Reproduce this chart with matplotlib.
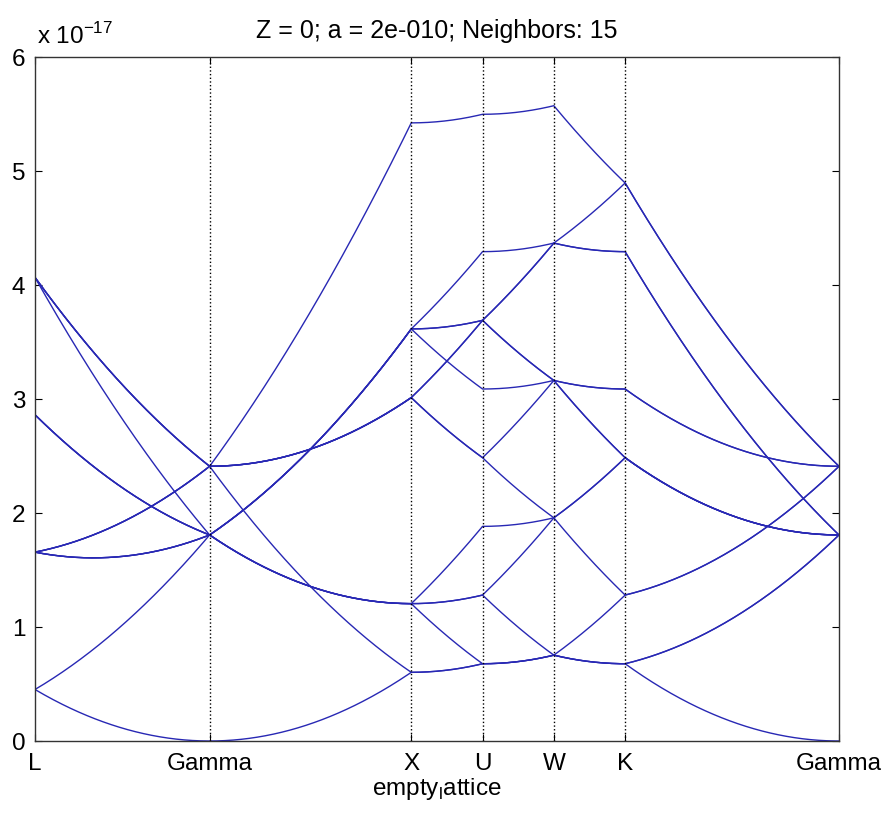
import numpy as np
import matplotlib
matplotlib.use("Agg")
import matplotlib.pyplot as plt

plt.rcParams['font.family'] = ['Liberation Sans', 'DejaVu Sans']

# Empty lattice (Z = 0), fcc, lattice constant a
a = 2e-10
hbar = 1.054571817e-34
m_e = 9.1093837e-31

# High symmetry path, k in units of 2*pi/a
point_labels = ['L', 'Gamma', 'X', 'U', 'W', 'K', 'Gamma']
point_k = [
    [0.5, 0.5, 0.5],
    [0.0, 0.0, 0.0],
    [1.0, 0.0, 0.0],
    [1.0, 0.25, 0.25],
    [1.0, 0.5, 0.0],
    [0.75, 0.75, 0.0],
    [0.0, 0.0, 0.0],
]

# 15 nearest reciprocal lattice vectors (units of 2*pi/a)
G_vectors = [
    [0, 0, 0],
    [1, 1, 1], [1, 1, -1], [1, -1, 1], [-1, 1, 1],
    [-1, -1, 1], [-1, 1, -1], [1, -1, -1], [-1, -1, -1],
    [2, 0, 0], [-2, 0, 0], [0, 2, 0], [0, -2, 0], [0, 0, 2], [0, 0, -2],
]

kp = np.array(point_k)
G = np.array(G_vectors, dtype=float)

# build path
xs, ks = [], []
dist = 0.0
tick_pos = [0.0]
for i in range(len(kp) - 1):
    seg = kp[i + 1] - kp[i]
    L = np.linalg.norm(seg)
    n = max(int(L * 200), 2)
    t = np.linspace(0, 1, n)
    for tt in t:
        ks.append(kp[i] + tt * seg)
        xs.append(dist + tt * L)
    dist += L
    tick_pos.append(dist)
xs = np.array(xs)
ks = np.array(ks)

unit = (2 * np.pi / a) ** 2 * hbar ** 2 / (2 * m_e)
E = np.sort(np.array([[np.sum((k + g) ** 2) for g in G] for k in ks]) * unit, axis=1)

fs = 17.5
fig = plt.figure(figsize=(8.84, 8.18), dpi=100)
ax = fig.add_axes([35 / 884, 1 - 741 / 818, 804 / 884, 684 / 818])

for b in range(E.shape[1]):
    ax.plot(xs, E[:, b] * 1e17, color='#2828b4', lw=1.0)

for p in tick_pos[1:-1]:
    ax.axvline(p, color='k', ls=':', lw=1.0)

ax.set_xlim(tick_pos[0], tick_pos[-1])
ax.set_ylim(0, 6)
ax.set_xticks(tick_pos)
ax.set_xticklabels(point_labels)
ax.set_yticks(range(0, 7))
ax.tick_params(direction='in', length=5, top=True, right=True, labelsize=fs)
ax.tick_params(axis='x', pad=9)
ax.tick_params(axis='y', pad=7)
for s in ax.spines.values():
    s.set_linewidth(1.0)
    s.set_color('#333333')

ax.text(0.003, 1.012, r'x 10$^{\mathregular{-17}}$', transform=ax.transAxes, fontsize=fs,
        ha='left', va='bottom')
ax.set_title('Z = 0; a = 2e-010; Neighbors: 15', fontsize=18, pad=14)
ax.set_xlabel('empty$_\\mathregular{l}$attice', fontsize=fs, labelpad=0)

fig.savefig('out.png', dpi=100)
